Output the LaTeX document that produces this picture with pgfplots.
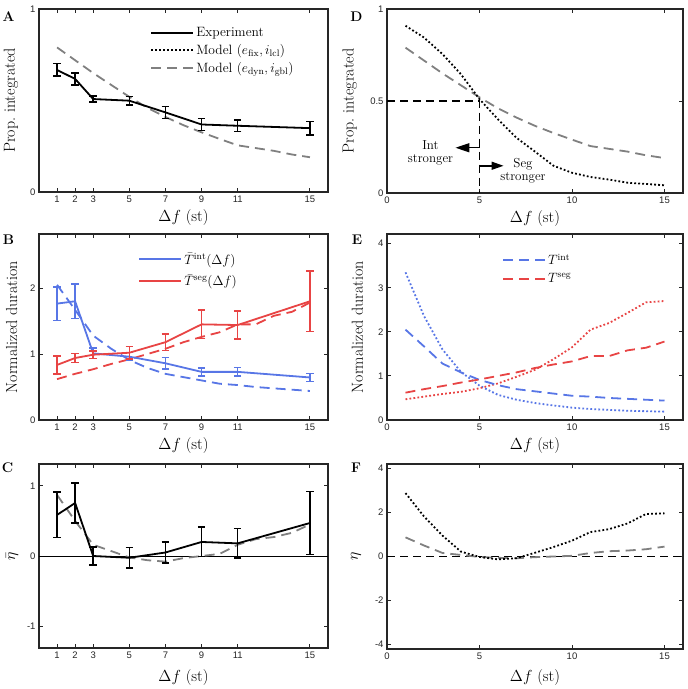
\documentclass[border=0pt]{standalone}
\usepackage{fix-cm}
\usepackage{fontspec}
\usepackage{pgfplots}
\usepackage{pgfplotstable}
\pgfplotsset{compat=1.18}
\usetikzlibrary{arrows.meta}
\newfontfamily\tickfont{Liberation Sans}
\definecolor{mblue}{RGB}{88,118,230}
\definecolor{mred}{RGB}{232,68,68}
\definecolor{mgray}{RGB}{128,128,128}
\definecolor{axcol}{RGB}{38,38,38}

\pgfplotstableread{
x propfix propdyn Tintfix Tintdyn Tsegfix Tsegdyn etafix etadyn
1  0.909 0.79  3.35 2.05 0.47 0.62 2.88 0.87
2  0.845 0.72  2.36 1.67 0.53 0.70 1.82 0.50
3  0.755 0.65  1.60 1.28 0.59 0.77 0.95 0.16
4  0.645 0.585 1.09 1.08 0.64 0.85 0.22 0.07
5  0.51  0.52  0.78 0.91 0.72 0.92 -0.02 -0.02
6  0.40  0.46  0.57 0.79 0.83 1.00 -0.13 -0.06
7  0.30  0.41  0.46 0.70 0.98 1.08 -0.08 -0.08
8  0.225 0.365 0.385 0.65 1.14 1.18 0.17 -0.03
9  0.148 0.326 0.33 0.60 1.38 1.26 0.43 0.00
10 0.11  0.29  0.28 0.55 1.65 1.33 0.72 0.03
11 0.087 0.255 0.25 0.53 2.05 1.45 1.11 0.16
12 0.073 0.24  0.23 0.50 2.20 1.45 1.24 0.24
13 0.056 0.225 0.21 0.48 2.43 1.58 1.50 0.27
14 0.049 0.205 0.20 0.46 2.67 1.64 1.93 0.33
15 0.042 0.19  0.19 0.44 2.70 1.78 1.96 0.45
}\models

\pgfplotstableread{
x pi pie Ti Tie Ts Tse eta etae
1  0.667 0.034 1.765 0.255 0.835 0.135 0.585 0.325
2  0.618 0.032 1.80 0.26 0.94 0.065 0.755 0.285
3  0.508 0.016 1.01 0.08 0.99 0.055 0.0 0.125
5  0.499 0.023 0.96 0.06 1.02 0.095 -0.025 0.145
7  0.435 0.032 0.86 0.09 1.18 0.125 0.05 0.15
9  0.369 0.034 0.73 0.06 1.45 0.215 0.20 0.21
11 0.362 0.032 0.73 0.065 1.44 0.215 0.18 0.21
15 0.349 0.037 0.645 0.06 1.80 0.46 0.47 0.45
}\expdata

\pgfplotsset{
 panel/.style={
  scale only axis, anchor=north west,
  xmin=0, xmax=16,
  axis line style={axcol, line width=1.3pt},
  tick align=inside, major tick length=4pt,
  xtick pos=both, ytick pos=both,
  every tick/.style={axcol, line width=1pt},
  tick label style={font=\tickfont\fontsize{9.5}{11}\selectfont, text=axcol},
  /pgf/number format/assume math mode=true,
  label style={font=\fontsize{16}{19}\selectfont},
  xlabel={$\Delta f$ (st)},
  xlabel style={at={(axis description cs:0.5,0)}, anchor=center, yshift=-26pt},
  legend style={draw=none, fill=none, font=\fontsize{13.5}{16}\selectfont,
     cells={anchor=west}, row sep=2pt, inner sep=0pt},
  legend image code/.code={\draw[##1] (0pt,0pt) -- (42pt,0pt);},
 },
 leftcol/.style={width=289pt, xtick={1,2,3,5,7,9,11,15}},
 rightcol/.style={width=296pt, xtick={0,5,10,15}},
 ebars/.style={error bars/.cd, y dir=both, y explicit,
     error bar style={line width=1.5pt, solid, #1},
     error mark=-,
     error mark options={line width=1.5pt, mark size=3.8pt, solid, rotate=90, #1}},
 dotl/.style={line width=1.8pt, dash pattern=on 1.8pt off 2.2pt},
 dashl/.style={line width=1.8pt, dash pattern=on 10pt off 6pt},
}

\begin{document}
\begin{tikzpicture}
\path[use as bounding box] (0pt,0pt) rectangle (688pt,-689pt);

% ---------- A
\begin{axis}[panel, leftcol, at={(39pt,-9pt)}, height=183pt,
  ymin=0, ymax=1, ytick={0,1}, ylabel={Prop.\ integrated},
  ylabel style={at={(axis description cs:-0.097,0.5)}, anchor=center},
  legend style={at={(axis description cs:0.384,0.91)}, anchor=north west}]
\addplot[mgray, dashl, forget plot] table[x=x, y=propdyn] {\models};
\addplot[black, line width=1.8pt, forget plot, ebars=black] table[x=x, y=pi, y error=pie] {\expdata};
\addlegendimage{black, line width=2.2pt}
\addlegendentry{Experiment}
\addlegendimage{black, dotl}
\addlegendentry{Model $(e_{\mathrm{fix}},i_{\mathrm{lcl}})$}
\addlegendimage{mgray, dashl}
\addlegendentry{Model $(e_{\mathrm{dyn}},i_{\mathrm{gbl}})$}
\end{axis}

% ---------- D
\begin{axis}[panel, rightcol, at={(387pt,-9pt)}, height=184pt,
  ymin=0, ymax=1, ytick={0,0.5,1}, ylabel={Prop.\ integrated},
  ylabel style={at={(axis description cs:-0.126,0.5)}, anchor=center}]
\addplot[black, line width=1.5pt, dash pattern=on 8pt off 5pt] coordinates {(0,0.5) (5,0.5) (5,0)};
\addplot[mgray, dashl] table[x=x, y=propdyn] {\models};
\addplot[black, dotl] table[x=x, y=propfix] {\models};
\draw[-{Triangle[length=14pt,width=9pt]}, line width=1.5pt] (axis cs:5,0.246) -- (axis cs:3.7,0.246);
\draw[-{Triangle[length=12pt,width=8pt]}, line width=1.5pt] (axis cs:5,0.148) -- (axis cs:6.3,0.148);
\node[align=center, font=\fontsize{13}{13}\selectfont] at (axis cs:2.35,0.216) {Int\\stronger};
\node[align=center, font=\fontsize{13}{13}\selectfont] at (axis cs:7.35,0.12) {Seg\\stronger};
\end{axis}

% ---------- B
\begin{axis}[panel, leftcol, at={(39pt,-234pt)}, height=186pt,
  ymin=0, ymax=2.82, ytick={0,1,2}, ylabel={Normalized duration},
  ylabel style={at={(axis description cs:-0.095,0.5)}, anchor=center},
  legend style={at={(axis description cs:0.343,0.91)}, anchor=north west, row sep=5pt}]
\addplot[mblue, dashl, forget plot] table[x=x, y=Tintdyn] {\models};
\addplot[mred, dashl, forget plot] table[x=x, y=Tsegdyn] {\models};
\addplot[mblue, line width=1.8pt, forget plot, ebars=mblue] table[x=x, y=Ti, y error=Tie] {\expdata};
\addplot[mred, line width=1.8pt, forget plot, ebars=mred] table[x=x, y=Ts, y error=Tse] {\expdata};
\addlegendimage{mblue, line width=2pt}
\addlegendentry{$\bar{T}^{\mathrm{int}}(\Delta f)$}
\addlegendimage{mred, line width=2pt}
\addlegendentry{$\bar{T}^{\mathrm{seg}}(\Delta f)$}
\end{axis}

% ---------- E
\begin{axis}[panel, rightcol, at={(387pt,-234pt)}, height=186pt,
  ymin=0, ymax=4.22, ytick={0,1,2,3,4}, ylabel={Normalized duration},
  ylabel style={at={(axis description cs:-0.1,0.5)}, anchor=center},
  legend style={at={(axis description cs:0.389,0.905)}, anchor=north west, row sep=3pt}]
\addplot[mblue, dotl, forget plot] table[x=x, y=Tintfix] {\models};
\addplot[mred, dotl, forget plot] table[x=x, y=Tsegfix] {\models};
\addplot[mblue, dashl] table[x=x, y=Tintdyn] {\models};
\addlegendentry{$T^{\mathrm{int}}$}
\addplot[mred, dashl] table[x=x, y=Tsegdyn] {\models};
\addlegendentry{$T^{\mathrm{seg}}$}
\end{axis}

% ---------- C
\begin{axis}[panel, leftcol, at={(39pt,-464pt)}, height=184pt,
  ymin=-1.31, ymax=1.31, ytick={-1,0,1}, ylabel={$\bar{\eta}$},
  ylabel style={at={(axis description cs:-0.093,0.5)}, anchor=center},
  xlabel style={yshift=-3pt}]
\addplot[black, line width=0.8pt] coordinates {(0,0) (16,0)};
\addplot[mgray, dashl] table[x=x, y=etadyn] {\models};
\addplot[black, line width=1.8pt, ebars=black] table[x=x, y=eta, y error=etae] {\expdata};
\end{axis}

% ---------- F
\begin{axis}[panel, rightcol, at={(387pt,-464pt)}, height=185pt,
  ymin=-4.2, ymax=4.2, ytick={-4,-2,0,2,4}, ylabel={$\eta$},
  ylabel style={at={(axis description cs:-0.105,0.5)}, anchor=center},
  xlabel style={yshift=-3pt}]
\addplot[black, line width=1pt, dash pattern=on 8pt off 5pt] coordinates {(0,0) (16,0)};
\addplot[mgray, dashl] table[x=x, y=etadyn] {\models};
\addplot[black, dotl] table[x=x, y=etafix] {\models};
\end{axis}

% panel letters
\node[font=\bfseries\fontsize{14}{16}\selectfont] at (8.5pt,-17pt) {A};
\node[font=\bfseries\fontsize{14}{16}\selectfont] at (356.5pt,-17pt) {D};
\node[font=\bfseries\fontsize{14}{16}\selectfont] at (8.5pt,-240pt) {B};
\node[font=\bfseries\fontsize{14}{16}\selectfont] at (357pt,-240pt) {E};
\node[font=\bfseries\fontsize{14}{16}\selectfont] at (7.5pt,-468pt) {C};
\node[font=\bfseries\fontsize{14}{16}\selectfont] at (356pt,-468pt) {F};
\end{tikzpicture}
\end{document}
